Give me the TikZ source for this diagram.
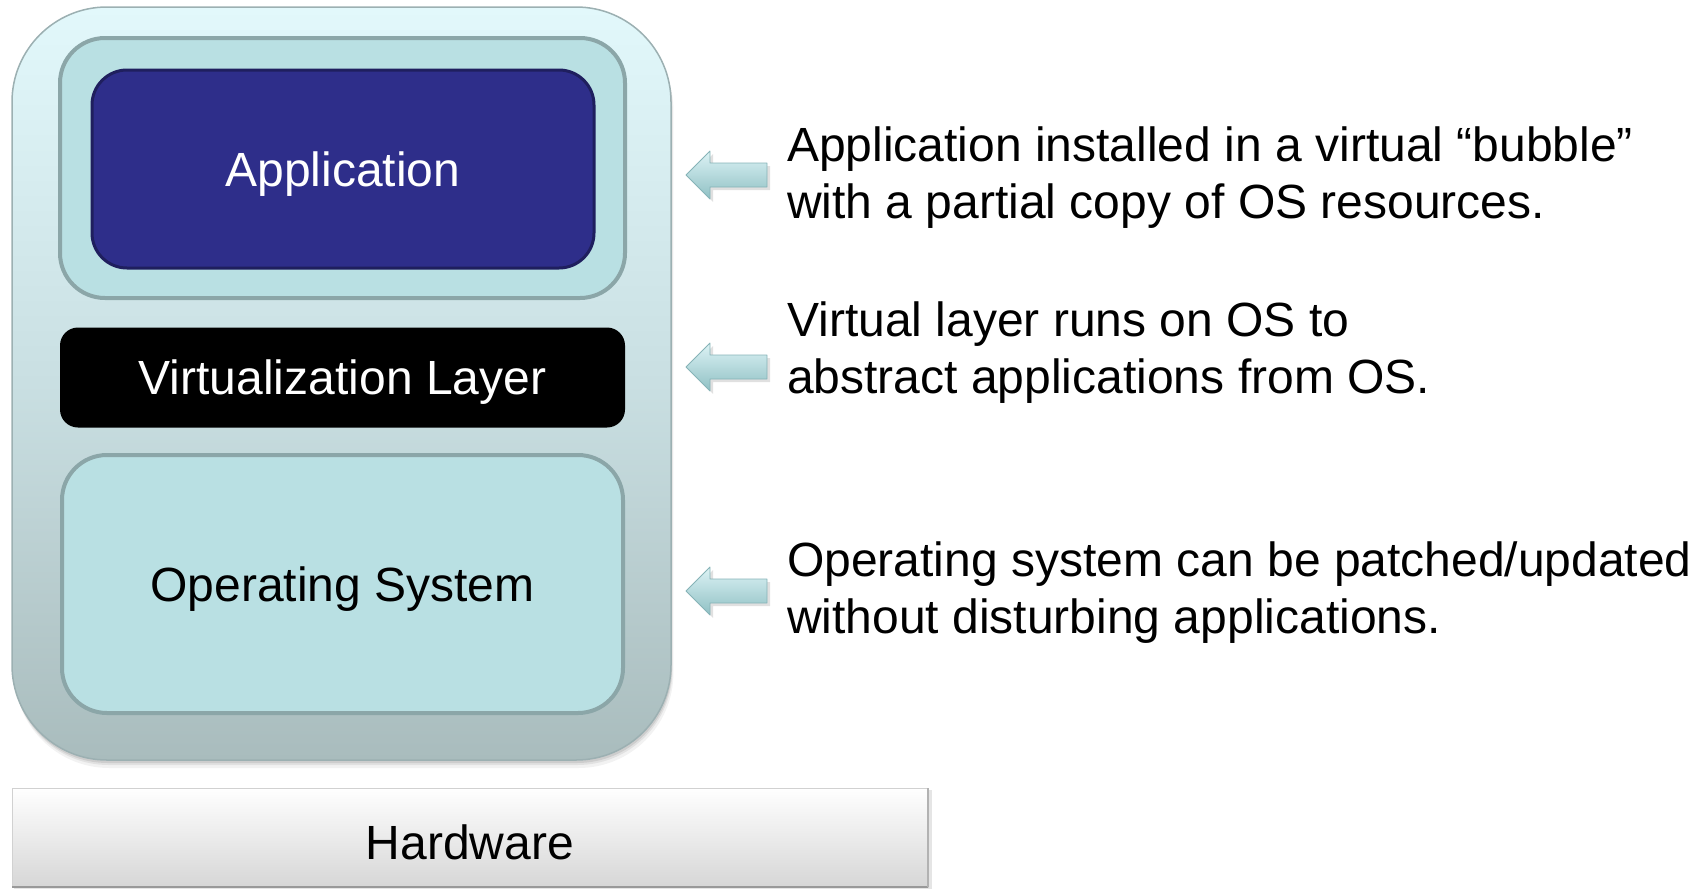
\documentclass[tikz,border=0pt]{standalone}
\usepackage{fontspec}
\setmainfont{Liberation Sans}
\begin{document}
\begin{tikzpicture}[x=1pt,y=-1pt]
\definecolor{bubtop}{HTML}{E2F8FB}
\definecolor{bubmid}{HTML}{C9DFE2}
\definecolor{bubbot}{HTML}{A9BCBD}
\definecolor{bubline}{HTML}{9CB0B2}
\definecolor{layfill}{HTML}{B9E0E3}
\definecolor{layline}{HTML}{8BA6A8}
\definecolor{appfill}{HTML}{2E2E8A}
\definecolor{appline}{HTML}{1F1F5E}
\definecolor{arrtop}{HTML}{DDF3F5}
\definecolor{arrbot}{HTML}{8FC0C4}
\definecolor{arrline}{HTML}{86B3B7}
\tikzset{
  boxtext/.style={font=\fontsize{48}{57}\selectfont, text height=34.4pt, text depth=0pt, inner sep=0pt, outer sep=0pt},
  layerbox/.style={boxtext, fill=layfill, draw=layline, line width=4pt, rounded corners=45pt},
  sidetext/.style={anchor=west, align=left, inner sep=0pt, font=\fontsize{48}{57}\selectfont},
  blockarrow/.style={top color=arrtop, bottom color=arrbot, draw=arrline, line width=0.8pt, line join=round},
  arrshadow/.style={fill=black, opacity=0.12},
}
\useasboundingbox (0,0) rectangle (1704,889);
% bubble shadow
\foreach \s/\o in {8/0.05,5/0.07,3/0.09}{
  \fill[black, opacity=\o, rounded corners=95pt] (12+\s*0.3,7+\s) rectangle (671+\s*0.3,760+\s);
}
\node[boxtext, minimum width=659pt, minimum height=753pt, rounded corners=95pt,
  top color=bubtop, bottom color=bubbot, middle color=bubmid, draw=bubline, line width=1.5pt] (bubble) at (341.5,383.5) {};
% layers
\node[layerbox, minimum width=565pt, minimum height=260pt] (appouter) at (342.5,168) {};
\node[boxtext, minimum width=502pt, minimum height=198pt, rounded corners=35pt, fill=appfill, draw=appline, line width=3pt, text=white] (app) at (343,169) {Application};
\node[boxtext, minimum width=565pt, minimum height=100pt, rounded corners=18pt, fill=black, text=white] (virt) at (342.5,377.5) {Virtualization Layer};
\node[layerbox, minimum width=561pt, minimum height=258pt] (os) at (342.5,584) {Operating System};
% hardware
\fill[black, opacity=0.10] (14,790) rectangle (932,889);
\node[boxtext, minimum width=916pt, minimum height=99pt, top color=white, bottom color=black!16, draw=black!18, line width=1pt] (hw) at (470,837.5) {};
\draw[black!40, line width=2.5pt] (hw.south west) -- (hw.south east);
\draw[black!30, line width=2pt] (hw.north east) -- (hw.south east);
\node[boxtext] (hwtext) at (470,842) {Hardware};
% arrows
\foreach \c/\n in {175/a1,367/a2,591/a3}{
  \fill[arrshadow] (689,\c+3) -- (713,\c-21) -- (713,\c-9) -- (770,\c-9) -- (770,\c+15) -- (713,\c+15) -- (713,\c+27) -- cycle;
  \draw[blockarrow] (686,\c) coordinate (\n) -- (710,\c-24) -- (710,\c-12) -- (767,\c-12) -- (767,\c+12) -- (710,\c+12) -- (710,\c+24) -- cycle;
}
% side texts
\node[sidetext] (t1) at (787,178) {Application installed in a virtual “bubble”\\with a partial copy of OS resources.};
\node[sidetext] (t2) at (787,353) {Virtual layer runs on OS to\\abstract applications from OS.};
\node[sidetext] (t3) at (787,593) {Operating system can be patched/updated\\without disturbing applications.};
\end{tikzpicture}
\end{document}
